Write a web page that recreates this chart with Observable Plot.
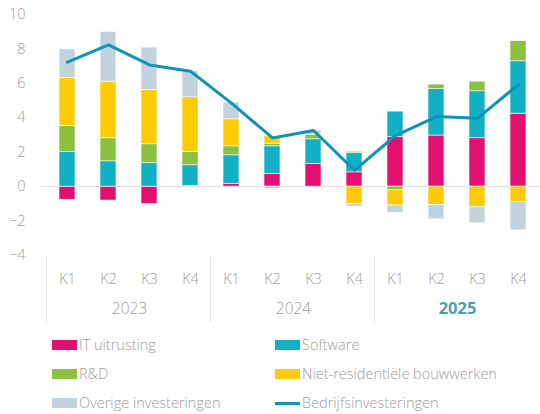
<!DOCTYPE html>
<html><head><meta charset="utf-8">
<script src="https://cdn.jsdelivr.net/npm/d3@7"></script>
<script src="https://cdn.jsdelivr.net/npm/@observablehq/plot@0.6"></script>
<style>
body{margin:0;background:#fff;font-family:"Open Sans",sans-serif;}
#wrap{position:relative;width:540px;height:414px;overflow:hidden;}
#chart{position:absolute;left:0;top:0;}
.item{position:absolute;display:flex;align-items:center;font-size:14.5px;line-height:20px;color:#9d9d9d;font-weight:300;white-space:nowrap;}
.sw{width:25px;height:10px;margin-right:2px;}
.ln{width:25px;height:3px;margin-right:2px;}
</style></head><body><div id="wrap"><div id="chart"></div><div id="legend"></div></div>
<script>
const years = ["2023", "2024", "2025"];
const quarters = ["K1", "K2", "K3", "K4"];
const boldYear = "2025";
const seriesNames = ["IT uitrusting", "Software", "R&D", "Niet-residentiële bouwwerken", "Overige investeringen"];
const seriesColors = ["#e3106f", "#12b0c4", "#8bc13f", "#ffcb05", "#c3d3de"];
const lineName = "Bedrijfsinvesteringen";
const lineColor = "#0f93b7";

const itValues       = [-0.76, -0.81, -1.01, 0.03, 0.15, 0.74, 1.32, 0.83, 2.87, 2.97, 2.81, 4.24];
const softwareValues = [2.00, 1.47, 1.36, 1.21, 1.67, 1.60, 1.43, 1.11, 1.49, 2.69, 2.73, 3.04];
const rdValues       = [1.53, 1.34, 1.10, 0.76, 0.52, 0.16, 0.27, 0.09, -0.21, 0.27, 0.56, 1.17];
const nrbValues      = [2.77, 3.29, 3.16, 3.19, 1.57, 0.42, 0.00, -1.01, -0.89, -1.07, -1.20, -0.89];
const overigeValues  = [1.67, 2.89, 2.46, 1.51, 0.97, -0.16, 0.24, -0.15, -0.43, -0.83, -0.93, -1.65];
const totalValues    = [7.23, 8.24, 7.07, 6.70, 4.85, 2.83, 3.26, 0.95, 2.97, 4.07, 3.97, 5.93];
const yTicks = [-4, -2, 0, 2, 4, 6, 8, 10];

const keys = years.flatMap(y => quarters.map(q => y + " " + q));
const seriesValues = [itValues, softwareValues, rdValues, nrbValues, overigeValues];
const rows = keys.flatMap((k, i) => seriesNames.map((s, j) => ({key: k, series: s, value: seriesValues[j][i]})));
const lineData = keys.map((k, i) => ({key: k, value: totalValues[i]}));

const gray = "#9d9d9d";
const chart = Plot.plot({
  width: 540,
  height: 325,
  marginLeft: 41,
  marginRight: 0,
  marginTop: 14,
  marginBottom: 70,
  style: {fontFamily: "'Open Sans', sans-serif", color: gray, overflow: "visible", background: "transparent"},
  x: {domain: keys, range: [41, 544], paddingInner: 0.6, paddingOuter: 0.3, axis: null},
  y: {domain: [-4, 10], axis: null},
  color: {domain: seriesNames, range: seriesColors},
  marks: [
    Plot.ruleY([0], {stroke: "#dcdcdc", strokeWidth: 1}),
    Plot.barY(rows, {x: "key", y: "value", fill: "series", order: seriesNames, stroke: "white", strokeWidth: 0.6}),
    Plot.line(lineData, {x: "key", y: "value", stroke: lineColor, strokeWidth: 3}),
    Plot.axisY({ticks: yTicks, tickSize: 0, tickPadding: 16, fontSize: 14.5, fontWeight: 300, label: null}),
    Plot.axisX({tickFormat: d => d.slice(5), tickSize: 0, tickPadding: 18, fontSize: 14.5, fontWeight: 300, label: null}),
    Plot.ruleX(years, {x: d => d + " K1", dx: -21, stroke: "#e3e3e3", insetTop: 243, insetBottom: -67}),
    Plot.text(years.filter(y => y !== boldYear), {x: d => d + " K2", text: d => d, dx: 21, frameAnchor: "bottom", dy: 58, fontSize: 15.5, fontWeight: 300, fill: gray}),
    Plot.text([boldYear], {x: d => d + " K2", text: d => d, dx: 21, frameAnchor: "bottom", dy: 58, fontSize: 16.5, fontWeight: 700, fill: "#4d9db0"})
  ]
});
document.getElementById("chart").appendChild(chart);

const legendItems = [
  {name: seriesNames[0], color: seriesColors[0], type: "bar"},
  {name: seriesNames[1], color: seriesColors[1], type: "bar"},
  {name: seriesNames[2], color: seriesColors[2], type: "bar"},
  {name: seriesNames[3], color: seriesColors[3], type: "bar"},
  {name: seriesNames[4], color: seriesColors[4], type: "bar"},
  {name: lineName, color: lineColor, type: "line"}
];
const leg = document.getElementById("legend");
legendItems.forEach((it, i) => {
  const col = i % 2, row = Math.floor(i / 2);
  const div = document.createElement("div");
  div.className = "item";
  div.style.left = (col ? 275 : 52) + "px";
  div.style.top = (335 + row * 29) + "px";
  const sw = document.createElement("span");
  sw.className = it.type === "bar" ? "sw" : "ln";
  sw.style.background = it.color;
  div.appendChild(sw);
  div.appendChild(document.createTextNode(it.name));
  leg.appendChild(div);
});
</script>
</body></html>
